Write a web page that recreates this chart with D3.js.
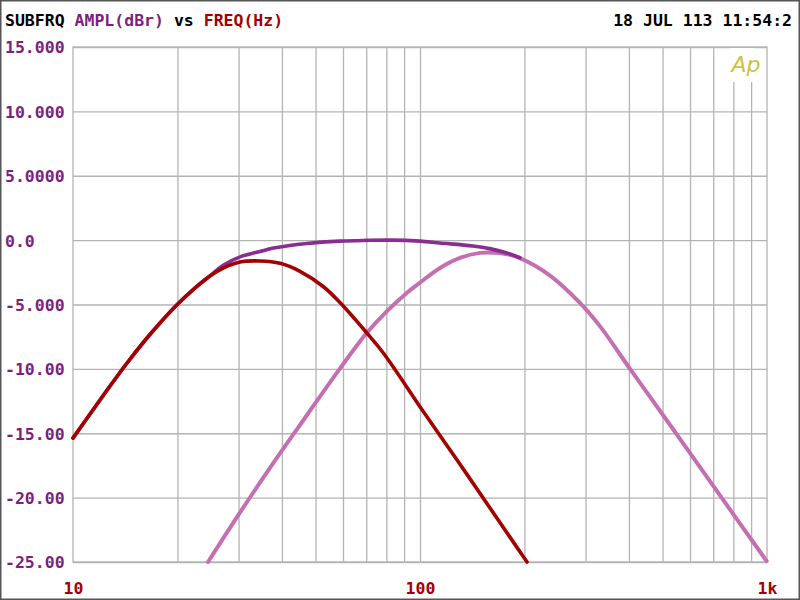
<!DOCTYPE html>
<html><head><meta charset="utf-8">
<script src="https://cdn.jsdelivr.net/npm/d3@7"></script>
<style>
html,body{margin:0;padding:0;background:#fff;}
svg{display:block;}
</style></head>
<body>
<script>
// ---- data ----
const sumFreq = [10, 11.44, 12.79, 14.28, 15.94, 17.81, 19.9, 22.2, 24.8, 27.1, 30.3, 34.6, 37.8, 47.2, 58.7, 70, 82, 100, 114, 142, 160, 178, 194];
const sumAmpl = [-15.38, -13.15, -11.33, -9.58, -7.95, -6.44, -5.04, -3.84, -2.79, -1.95, -1.3, -0.88, -0.62, -0.26, -0.08, -0.02, 0, -0.08, -0.22, -0.45, -0.68, -1.0, -1.37];

const lowFreq = [10, 11.44, 12.79, 14.28, 15.94, 17.81, 19.9, 22.2, 24.8, 27.1, 30.3, 34.6, 39.5, 45.1, 52.6, 58.8, 70.2, 78.3, 102.2, 127.6, 159.1, 192, 203.5];
const lowAmpl = [-15.38, -13.15, -11.33, -9.58, -7.95, -6.44, -5.04, -3.84, -2.79, -2.17, -1.7, -1.62, -1.8, -2.42, -3.6, -4.85, -7.2, -8.75, -13.31, -17.04, -20.8, -24.02, -25];

const highFreq = [24.5, 30.3, 37.8, 47.2, 58.7, 70.2, 80.2, 91.6, 100, 114.2, 130.4, 148.9, 165, 177.8, 194, 237, 289, 330, 403, 502, 613, 716, 836, 998];
const highAmpl = [-25, -21.15, -17.3, -13.6, -10.0, -7.22, -5.53, -4.1, -3.3, -2.16, -1.38, -0.99, -0.98, -1.1, -1.4, -2.75, -4.87, -6.68, -10.0, -13.6, -16.9, -19.46, -22.02, -24.93];

const yTickValues = [15, 10, 5, 0, -5, -10, -15, -20, -25];
const yTickLabels = ["15.000", "10.000", "5.0000", "0.0", "-5.000", "-10.00", "-15.00", "-20.00", "-25.00"];
const xTickValues = [10, 100, 1000];
const xTickLabels = ["10", "100", "1k"];
const xGridValues = [20, 30, 40, 50, 60, 70, 80, 90, 100, 200, 300, 400, 500, 600, 700, 800, 900];

// ---- layout ----
const W = 800, H = 600;
const L = 73, R = 767, T = 47, B = 562;
const FONT = "'DejaVu Sans Mono', 'Liberation Mono', monospace";
const PURPLE = "#7e1f80", RED = "#a30000", PINK = "#c46fb2", SUMC = "#8a2d90";

const svg = d3.select("body").append("svg").attr("width", W).attr("height", H);
svg.append("rect").attr("x", 0.75).attr("y", 0.75).attr("width", W - 1.5).attr("height", H - 1.5)
  .attr("fill", "#fff").attr("stroke", "#555").attr("stroke-width", 1.5);

const x = d3.scaleLog().domain([10, 1000]).range([L, R]);
const y = d3.scaleLinear().domain([-25, 15]).range([B, T]);

// grid
const gridCol = "#b4b4b4";
const gx = svg.append("g").attr("transform", `translate(0,${B})`)
  .call(d3.axisBottom(x).tickValues(xGridValues).tickSize(-(B - T)).tickFormat(""));
gx.select(".domain").remove();
gx.selectAll("line").attr("stroke", gridCol).attr("stroke-width", 1.3);

const gy = svg.append("g").attr("transform", `translate(${L},0)`)
  .call(d3.axisLeft(y).tickValues(yTickValues).tickSize(-(R - L)).tickFormat(""));
gy.select(".domain").remove();
gy.selectAll("line").attr("stroke", gridCol).attr("stroke-width", 1.3);

svg.append("rect").attr("x", L).attr("y", T).attr("width", R - L).attr("height", B - T)
  .attr("fill", "none").attr("stroke", gridCol).attr("stroke-width", 1.3);

// Ap logo area
svg.append("rect").attr("x", x(800) - 4).attr("y", T + 1).attr("width", x(900) - x(800) + 8).attr("height", 34).attr("fill", "#fff");
svg.append("text").attr("x", 746).attr("y", 72).attr("text-anchor", "middle")
  .attr("font-family", "'DejaVu Sans', sans-serif").attr("font-style", "italic").attr("font-weight", 300)
  .attr("font-size", 22).attr("fill", "#c9c43c").text("Ap");

// y axis labels
const ay = svg.append("g").attr("transform", `translate(${L},0)`)
  .call(d3.axisLeft(y).tickValues(yTickValues).tickSize(0).tickFormat((d, i) => yTickLabels[i]));
ay.select(".domain").remove();
ay.selectAll("text").attr("x", 5 - L).attr("text-anchor", "start").attr("dy", "0.36em")
  .attr("font-family", FONT).attr("font-weight", "bold").attr("font-size", 16.5).attr("fill", PURPLE);

// x axis labels
const ax = svg.append("g").attr("transform", `translate(0,${B})`)
  .call(d3.axisBottom(x).tickValues(xTickValues).tickSize(0).tickFormat((d, i) => xTickLabels[i]));
ax.select(".domain").remove();
ax.selectAll("text").attr("y", 32).attr("dy", 0)
  .attr("font-family", FONT).attr("font-weight", "bold").attr("font-size", 16.5).attr("fill", RED);

// title
const t = svg.append("text").attr("x", 5).attr("y", 26).attr("font-family", FONT)
  .attr("font-weight", "bold").attr("font-size", 16.5).attr("xml:space", "preserve");
t.append("tspan").attr("fill", "#000").text("SUBFRQ ");
t.append("tspan").attr("fill", PURPLE).text("AMPL(dBr)");
t.append("tspan").attr("fill", "#000").text(" vs ");
t.append("tspan").attr("fill", RED).text("FREQ(Hz)");

svg.append("text").attr("x", 792).attr("y", 26).attr("text-anchor", "end").attr("font-family", FONT)
  .attr("font-weight", "bold").attr("font-size", 16.5).attr("fill", "#000").text("18 JUL 113 11:54:2");

// curves
const line = d3.line().x(d => x(d[0])).y(d => y(d[1])).curve(d3.curveCatmullRom.alpha(0.5));
const zip = (a, b) => a.map((v, i) => [v, b[i]]);

svg.append("path").datum(zip(highFreq, highAmpl)).attr("d", line)
  .attr("fill", "none").attr("stroke", PINK).attr("stroke-width", 4).attr("stroke-linecap", "round");
svg.append("path").datum(zip(sumFreq, sumAmpl)).attr("d", line)
  .attr("fill", "none").attr("stroke", SUMC).attr("stroke-width", 3.6).attr("stroke-linecap", "round");
svg.append("path").datum(zip(lowFreq, lowAmpl)).attr("d", line)
  .attr("fill", "none").attr("stroke", RED).attr("stroke-width", 3.6).attr("stroke-linecap", "round");
</script>
</body></html>
